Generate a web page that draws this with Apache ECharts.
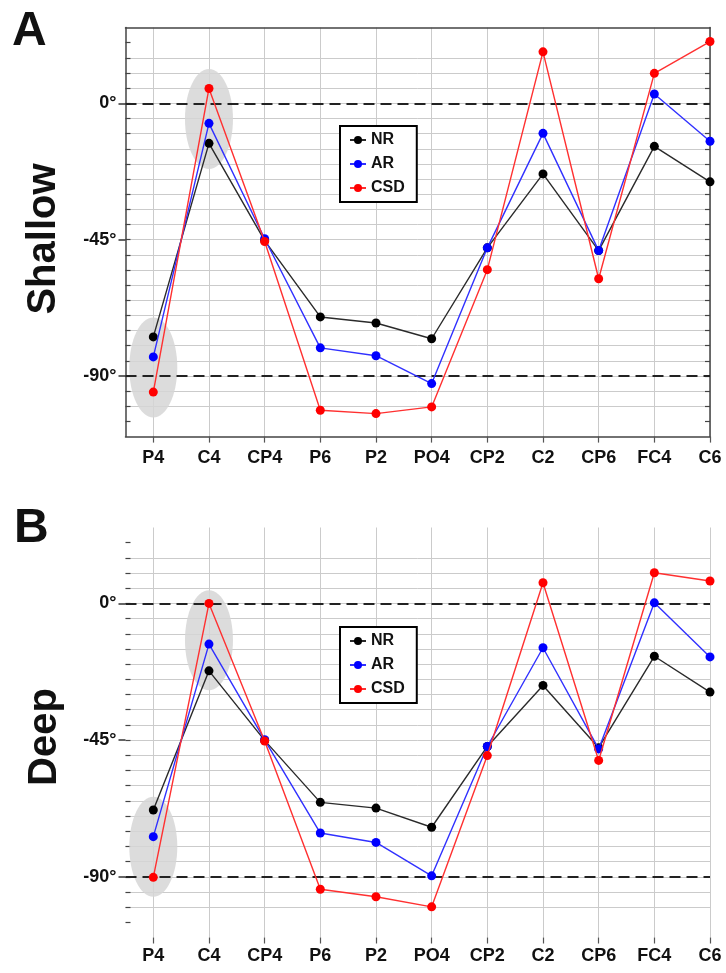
<!DOCTYPE html>
<html>
<head>
<meta charset="utf-8">
<script src="https://cdn.jsdelivr.net/npm/echarts@6/dist/echarts.min.js"></script>
<style>
  html, body { margin: 0; padding: 0; background: #fff; }
  #chart { width: 726px; height: 973px; }
</style>
</head>
<body>
<div id="chart"></div>
<script>
// electrode sites on the x axis
var categories = ['P4', 'C4', 'CP4', 'P6', 'P2', 'PO4', 'CP2', 'C2', 'CP6', 'FC4', 'C6']

// panel A - shallow (degrees)
var shallowNR = [-77.1, -13.2, -45.3, -70.5, -72.5, -77.7, -47.7, -23.3, -48.6, -14.2, -25.9]
var shallowAR = [-83.7, -6.6, -44.7, -80.7, -83.3, -92.5, -47.7, -9.9, -48.6, 3.1, -12.5]
var shallowCSD = [-95.3, 4.9, -45.6, -101.3, -102.4, -100.2, -54.9, 17.0, -57.9, 9.9, 20.4]

// panel B - deep (degrees)
var deepNR = [-68.0, -22.2, -45.1, -65.5, -67.4, -73.7, -47.1, -27.0, -47.5, -17.4, -29.2]
var deepAR = [-76.8, -13.4, -44.9, -75.6, -78.7, -89.7, -47.1, -14.6, -47.9, 0.2, -17.6]
var deepCSD = [-90.2, 0, -45.3, -94.1, -96.6, -99.9, -50.1, 6.8, -51.7, 10.1, 7.4]

var seriesNames = ['NR', 'AR', 'CSD']
var yTickLabels = [0, -45, -90]
var dashedAt = [0, -90]
var highlighted = ['P4', 'C4']

var Y_MIN = -110
var Y_MAX = 25
var FONT = 'Liberation Sans, Arial, sans-serif'
var lineColors = ['#2a2a2a', '#3030ff', '#ff3030']
var dotColors = ['#000000', '#0000ff', '#ff0000']
var gridColor = '#cbcbcb'
var frameColor = '#444'

// minor ticks inside the plot, every 5 degrees
var minorTicks = []
for (var v = Y_MIN + 5; v < Y_MAX; v += 5) minorTicks.push(v)

var chart = echarts.init(document.getElementById('chart'))

var xaCount = 0
var yaCount = 0

// each panel = frame grid (horizontal lines, y labels) + data grid (categories, series)
function buildPanel(p, top, height, values, withFrame) {
  var gFrame = p * 2
  var gData = p * 2 + 1
  var xa = [], ya = [], series = []

  var grids = [
    { left: 125.5, right: 16, top: top, height: height },
    { left: 153.3, right: 16, top: top, height: height }
  ]

  var frameLine = { show: true, onZero: false, lineStyle: { color: frameColor, width: 1.5 } }

  // frame grid x axes (only the border lines in panel A)
  xa.push({
    gridIndex: gFrame, type: 'value', min: 0, max: 1, position: 'bottom',
    show: withFrame, axisLine: frameLine,
    axisTick: { show: false }, axisLabel: { show: false }, splitLine: { show: false }
  })
  var xFrameIdx = xaCount
  xaCount += 1
  if (withFrame) {
    xa.push({
      gridIndex: gFrame, type: 'value', min: 0, max: 1, position: 'top',
      axisLine: frameLine,
      axisTick: { show: false }, axisLabel: { show: false }, splitLine: { show: false }
    })
    xaCount += 1
  }
  // category axis on the data grid
  xa.push({
    gridIndex: gData, type: 'category', data: categories, boundaryGap: false,
    axisLine: { show: false, onZero: false },
    axisTick: { show: true, length: 6, lineStyle: { color: '#555', width: 1.2 } },
    axisLabel: { margin: withFrame ? 12 : 10, color: '#111', fontFamily: FONT, fontWeight: 'bold', fontSize: 18 },
    splitLine: { show: true, lineStyle: { color: gridColor, width: 1 } }
  })
  var xDataIdx = xaCount
  xaCount += 1

  // left minor axis: gridlines + inside ticks
  ya.push({
    gridIndex: gFrame, type: 'value', min: Y_MIN, max: Y_MAX, interval: 5, position: 'left',
    axisLine: { show: withFrame, onZero: false, lineStyle: { color: frameColor, width: 1.5 } },
    axisTick: { show: true, inside: true, length: 5, customValues: minorTicks, lineStyle: { color: '#444', width: 1.2 } },
    axisLabel: { show: false },
    splitLine: { show: true, showMinLine: false, showMaxLine: false, lineStyle: { color: gridColor, width: 1 } }
  })
  var yFrameIdx = yaCount
  yaCount += 1
  // left major axis: degree labels
  ya.push({
    gridIndex: gFrame, type: 'value', min: Y_MIN, max: Y_MAX, position: 'left',
    axisLine: { show: false, onZero: false },
    axisTick: { show: true, length: 7, customValues: yTickLabels, lineStyle: { color: '#333', width: 1.5 } },
    axisLabel: {
      customValues: yTickLabels, margin: 9, color: '#111',
      fontFamily: FONT, fontWeight: 'bold', fontSize: 18,
      formatter: function (val) { return val + '°' }
    },
    splitLine: { show: false }
  })
  yaCount += 1
  if (withFrame) {
    ya.push({
      gridIndex: gFrame, type: 'value', min: Y_MIN, max: Y_MAX, position: 'right',
      axisLine: frameLine,
      axisTick: { show: true, inside: true, length: 5, customValues: minorTicks, lineStyle: { color: '#444', width: 1.2 } },
      axisLabel: { show: false }, splitLine: { show: false }
    })
    yaCount += 1
  }
  ya.push({ gridIndex: gData, type: 'value', min: Y_MIN, max: Y_MAX, show: false, splitLine: { show: false } })
  var yDataIdx = yaCount
  yaCount += 1

  // dashed reference lines across the full frame width
  series.push({
    type: 'line', xAxisIndex: xFrameIdx, yAxisIndex: yFrameIdx, data: [], silent: true,
    markLine: {
      symbol: 'none', silent: true, animation: false,
      label: { show: false },
      lineStyle: { type: [11, 6], color: '#222', width: 2 },
      data: dashedAt.map(function (d) { return { yAxis: d } })
    },
    z: 4
  })

  // grey ellipses around highlighted sites
  var ellipseData = highlighted.map(function (name) {
    var i = categories.indexOf(name)
    var vals = values.map(function (arr) { return arr[i] })
    return [name, Math.min.apply(null, vals), Math.max.apply(null, vals)]
  })
  series.push({
    type: 'custom', xAxisIndex: xDataIdx, yAxisIndex: yDataIdx, silent: true, z: 1,
    encode: { x: 0, y: [1, 2] },
    data: ellipseData,
    renderItem: function (params, api) {
      var c = api.coord([api.value(0), (api.value(1) + api.value(2)) / 2])
      return {
        type: 'ellipse',
        shape: { cx: c[0], cy: c[1] + 3, rx: 24, ry: 50 },
        style: { fill: '#d6d6d6', opacity: 0.85 }
      }
    }
  })

  values.forEach(function (arr, k) {
    series.push({
      name: seriesNames[k], type: 'line', xAxisIndex: xDataIdx, yAxisIndex: yDataIdx,
      data: arr, symbol: 'circle', symbolSize: 9, clip: false, z: 5 + k,
      itemStyle: { color: dotColors[k] },
      lineStyle: { color: lineColors[k], width: 1.4 }
    })
  })

  return { grids: grids, xa: xa, ya: ya, series: series }
}

var panelA = buildPanel(0, 27.6, 409, [shallowNR, shallowAR, shallowCSD], true)
var panelB = buildPanel(1, 527.5, 410, [deepNR, deepAR, deepCSD], false)

function legendAt(top) {
  return {
    left: 340, top: top, orient: 'vertical', data: seriesNames,
    itemWidth: 16, itemHeight: 10, itemGap: 8, selectedMode: false,
    padding: [6, 12, 6, 9], borderColor: '#000', borderWidth: 2, backgroundColor: '#fff',
    textStyle: { fontFamily: FONT, fontWeight: 'bold', fontSize: 16, color: '#111', lineHeight: 16 }
  }
}

var option = {
  animation: false,
  backgroundColor: '#fff',
  grid: panelA.grids.concat(panelB.grids),
  xAxis: panelA.xa.concat(panelB.xa),
  yAxis: panelA.ya.concat(panelB.ya),
  legend: [legendAt(126), legendAt(627)],
  series: panelA.series.concat(panelB.series),
  graphic: [
    { type: 'text', left: 12, top: 8, style: { text: 'A', font: 'bold 48px ' + FONT, fill: '#111' } },
    { type: 'text', left: 14, top: 505, style: { text: 'B', font: 'bold 48px ' + FONT, fill: '#111' } },
    { type: 'text', x: 44, y: 239, rotation: Math.PI / 2,
      style: { text: 'Shallow', font: 'bold 40px ' + FONT, fill: '#111', align: 'center', verticalAlign: 'middle' } },
    { type: 'text', x: 45, y: 737, rotation: Math.PI / 2,
      style: { text: 'Deep', font: 'bold 40px ' + FONT, fill: '#111', align: 'center', verticalAlign: 'middle' } }
  ]
}

chart.setOption(option)
</script>
</body>
</html>
